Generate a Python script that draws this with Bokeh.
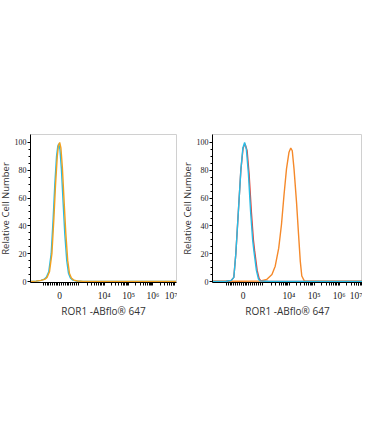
import numpy as np
from bokeh.plotting import figure
from bokeh.layouts import row
from bokeh.models import FixedTicker, Range1d
from bokeh.embed import file_html
from bokeh.resources import INLINE

# ---- data (x in display units of the biexponential axis: 10^k at k, "0" at 2.17) ----
xtick_pos = [2.17, 4.0, 5.0, 6.0, 6.77]
xtick_labels = ["0", "10\u2074", "10\u2075", "10\u2076", "10\u2077"]
ytick_pos = [0, 20, 40, 60, 80, 100]

# left panel
left_orange_x = [0.97, 1.2, 1.4, 1.55, 1.65, 1.75, 1.85, 1.93, 2.0, 2.07, 2.12, 2.17,
                 2.22, 2.28, 2.35, 2.42, 2.5, 2.57, 2.65, 2.75, 2.9, 3.1, 3.5, 4.5, 6.95]
left_orange_y = [0.0, 0.3, 0.8, 1.5, 3, 7, 20, 45, 70, 90, 98, 100,
                 96, 82, 58, 35, 15, 6, 2.5, 1.0, 0.4, 0.2, 0.1, 0.0, 0.0]
left_blue_x = [0.97, 1.2, 1.4, 1.52, 1.62, 1.72, 1.82, 1.9, 1.97, 2.04, 2.09, 2.13,
               2.18, 2.24, 2.31, 2.38, 2.46, 2.53, 2.61, 2.71, 2.86, 3.05, 3.5, 4.5, 6.95]
left_blue_y = [0.0, 0.3, 0.8, 1.5, 3, 7, 20, 45, 70, 90, 97, 99,
               95, 81, 57, 34, 15, 6, 2.5, 1.0, 0.4, 0.2, 0.1, 0.0, 0.0]

# right panel
right_blue_x = [0.95, 1.5, 1.7, 1.8, 1.88, 1.98, 2.08, 2.16, 2.23, 2.3, 2.38, 2.47,
                2.55, 2.6, 2.7, 2.78, 2.84, 3.2, 6.93]
right_blue_y = [0.0, 0.2, 0.8, 3, 20, 50, 80, 96, 100, 95, 78, 50,
                30, 22, 8, 2, 0.5, 0.0, 0.0]
right_red_x = [0.95, 1.5, 1.7, 1.8, 1.88, 1.98, 2.08, 2.17, 2.25, 2.33, 2.41, 2.5,
               2.58, 2.63, 2.73, 2.81, 2.88, 3.2, 6.93]
right_red_y = [0.0, 0.2, 0.8, 3, 20, 50, 80, 96, 99, 94, 77, 50,
               30, 22, 8, 2, 0.5, 0.0, 0.0]
right_orange_x = [0.95, 2.0, 2.84, 3.11, 3.32, 3.45, 3.59, 3.70, 3.80, 3.90, 4.0, 4.07,
                  4.13, 4.20, 4.30, 4.38, 4.45, 4.51, 4.61, 4.8, 6.93]
right_orange_y = [0.3, 0.2, 0.3, 1.5, 5, 11, 24, 41, 62, 81, 93, 96,
                  94, 81, 57, 34, 14.5, 4, 0.5, 0.2, 0.2]

def minor_ticks():
    lin = list(np.arange(1.5, 2.9, 0.075))
    logs = []
    for k in [2, 3, 4, 5, 6]:
        for m in range(2, 10):
            t = k + np.log10(m)
            if 2.95 < t < 6.95:
                logs.append(t)
    return lin + logs

def make_panel(width, min_left, min_right, xr, series):
    p = figure(width=width, height=320, output_backend="svg", toolbar_location=None,
               x_range=Range1d(*xr), y_range=Range1d(-0.7, 105.7),
               min_border_left=min_left, min_border_right=min_right,
               min_border_top=134, min_border_bottom=37)
    for xs, ys, c in series:
        p.line(xs, ys, line_color=c, line_width=1.4)
    p.grid.visible = False
    p.outline_line_color = "#d0d0d0"
    p.outline_line_width = 1
    p.background_fill_color = "white"
    p.border_fill_color = "white"

    xa = p.xaxis[0]
    xa.ticker = FixedTicker(ticks=xtick_pos, minor_ticks=minor_ticks())
    xa.major_label_overrides = {v: s for v, s in zip(xtick_pos, xtick_labels)}
    xa.axis_label = "ROR1 -ABflo\u00ae 647"
    xa.axis_label_text_font = "Open Sans"
    xa.axis_label_text_font_style = "normal"
    xa.axis_label_text_font_size = "10px"
    xa.axis_label_text_color = "#333333"
    xa.axis_label_standoff = 0
    xa.major_label_text_font = "Liberation Serif"
    xa.major_label_text_font_size = "9.5px"
    xa.major_label_text_color = "#222222"
    xa.major_label_standoff = 5
    xa.major_tick_out = 3
    xa.major_tick_in = 0
    xa.minor_tick_out = 3
    xa.minor_tick_in = 0
    xa.axis_line_color = "black"

    ya = p.yaxis[0]
    ya.ticker = FixedTicker(ticks=ytick_pos, minor_ticks=list(range(0, 101, 5)))
    ya.axis_label = "Relative Cell Number"
    ya.axis_label_text_font = "Open Sans"
    ya.axis_label_text_font_style = "normal"
    ya.axis_label_text_font_size = "9.5px"
    ya.axis_label_text_color = "#333333"
    ya.axis_label_standoff = 0
    ya.major_label_text_font = "Liberation Serif"
    ya.major_label_text_font_size = "8px"
    ya.major_label_text_color = "#222222"
    ya.major_label_standoff = 1
    ya.major_tick_out = 3
    ya.major_tick_in = 0
    ya.minor_tick_out = 2
    ya.minor_tick_in = 0
    ya.axis_line_color = "black"
    return p

BLUE = "#27bde6"
ORANGE_L = "#f2a11f"
ORANGE_R = "#f5892a"
RED = "#e0453c"

p1 = make_panel(182, 24, 1, (0.97, 6.97),
                [(left_blue_x, left_blue_y, BLUE), (left_orange_x, left_orange_y, ORANGE_L)])
p2 = make_panel(185, 32, 0, (0.95, 6.93),
                [(right_orange_x, right_orange_y, ORANGE_R), (right_red_x, right_red_y, RED),
                 (right_blue_x, right_blue_y, BLUE)])

layout = row(p1, p2, styles={"margin-left": "-5px"})
open("out.html", "w").write(file_html(layout, INLINE))
